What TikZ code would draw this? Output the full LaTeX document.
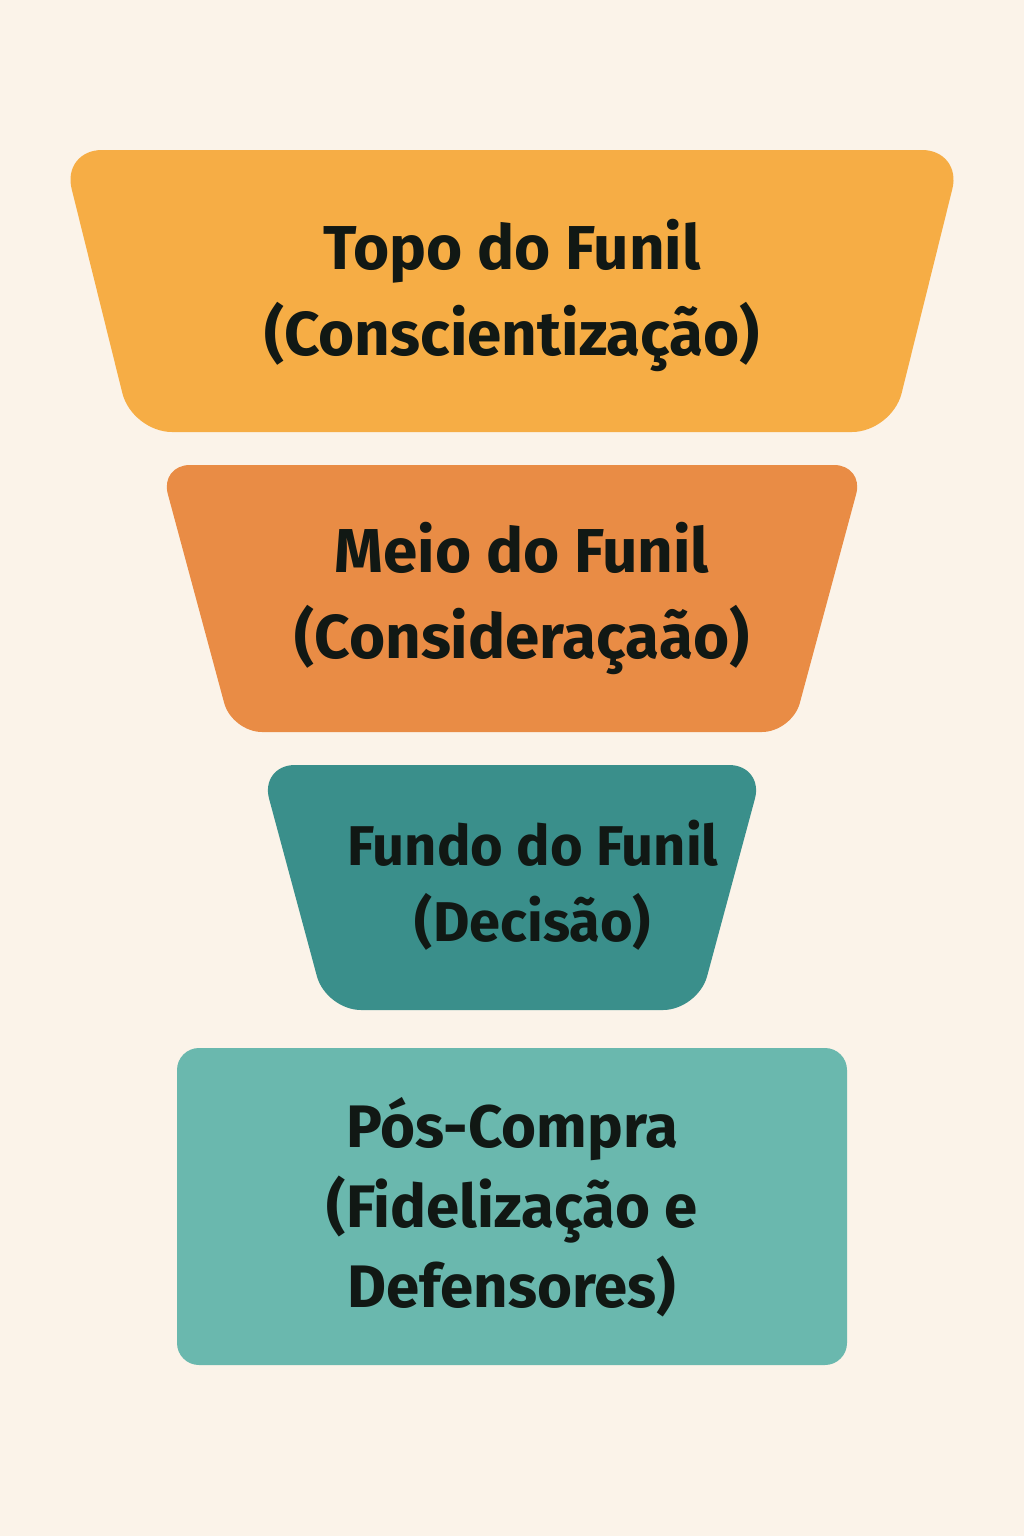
\documentclass[tikz,border=0pt]{standalone}
\usepackage{fontspec}
\setmainfont{Fira Sans}
\definecolor{bg}{HTML}{FBF3E9}
\definecolor{c1}{HTML}{F6AD45}
\definecolor{c2}{HTML}{E98C45}
\definecolor{c3}{HTML}{3A8F8B}
\definecolor{c4}{HTML}{6AB8AE}
\definecolor{tx}{HTML}{111814}
\begin{document}
\begin{tikzpicture}[x=1pt,y=-1pt,
  lbl/.style={text=tx,font=\fontsize{62}{86}\selectfont\bfseries,align=center,inner sep=0pt}]
\fill[bg] (0,0) rectangle (1024,1536);
\useasboundingbox (0,0) rectangle (1024,1536);
\fill[c1,rounded corners=40pt] (62,150) -- (962,150) -- (892,432) -- (132,432) -- cycle;
\fill[c2,rounded corners=30pt] (160,465) -- (864,465) -- (792,732) -- (232,732) -- cycle;
\fill[c3,rounded corners=35pt] (260,765) -- (764,765) -- (698,1010) -- (326,1010) -- cycle;
\fill[c4,rounded corners=22pt] (177,1048) rectangle (847,1365);
\node[lbl] (t1) at (512,295) {Topo do Funil\\(Conscientização)};
\node[lbl] (t2) at (522,598) {Meio do Funil\\(Consideraçaão)};
\node[lbl,font=\fontsize{56}{76}\selectfont\bfseries] (t3) at (533,885) {Fundo do Funil\\(Decisão)};
\node[lbl,font=\fontsize{60}{80}\selectfont\bfseries] (t4) at (512,1207) {Pós-Compra\\(Fidelização e\\Defensores)};
\end{tikzpicture}
\end{document}
